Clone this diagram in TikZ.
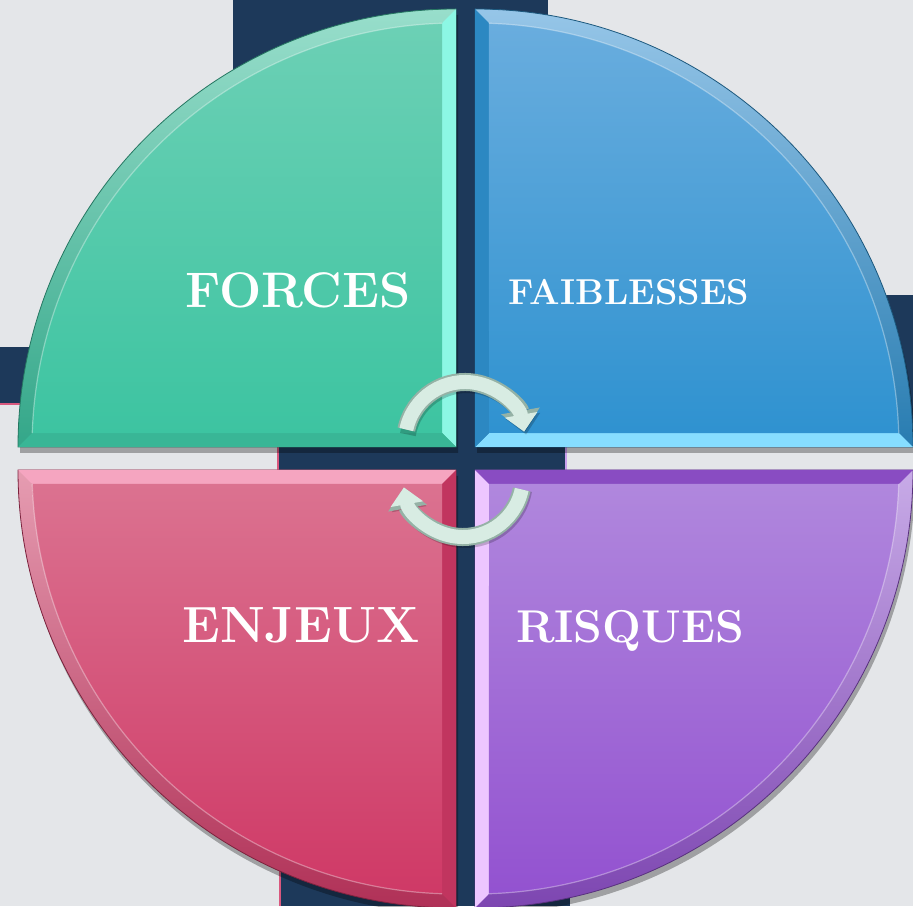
\documentclass[tikz,border=0pt]{standalone}
\usepackage{fontspec}
\usetikzlibrary{arrows.meta,shadows}

\definecolor{slide}{HTML}{E4E6E9}
\definecolor{navy}{HTML}{1D395A}
\definecolor{rim}{HTML}{D9587E}
\definecolor{lilac}{HTML}{C9A0EE}
\definecolor{mint}{HTML}{D8ECE3}
\definecolor{mintedge}{HTML}{95B2A6}
% quarter colours: face top, face bottom, glow strip
\definecolor{greentop}{HTML}{6CD0B5}
\definecolor{greenbot}{HTML}{3DC4A1}
\definecolor{greenglow}{HTML}{8CF7E4}
\definecolor{bluetop}{HTML}{69ADDE}
\definecolor{bluebot}{HTML}{2F92D0}
\definecolor{blueglow}{HTML}{86DDFF}
\definecolor{pinktop}{HTML}{DB7290}
\definecolor{pinkbot}{HTML}{CF3966}
\definecolor{pinkglow}{HTML}{F5A5C0}
\definecolor{violettop}{HTML}{B087DD}
\definecolor{violetbot}{HTML}{9352D0}
\definecolor{violetglow}{HTML}{EDC6FF}

\tikzset{
  quad/.style={drop shadow={shadow xshift=2pt,shadow yshift=-6pt,opacity=.3,fill=black}},
  quadtext/.style={anchor=base, text=white, font=\bfseries\fontsize{#1}{#1}\selectfont},
  turnshadow/.style={line width=16pt, draw=black, opacity=.2, -{Triangle[width=34pt,length=19pt]}},
  turnedge/.style={line width=18pt, draw=mintedge, -{Triangle[width=38pt,length=21pt]}},
  turn/.style={line width=14pt, draw=mint, -{Triangle[width=32pt,length=17pt]}}
}

% #1 corner, #2 start angle, #3 colour name
\newcommand{\quadrant}[3]{%
  \begin{scope}[shift={#1}]
    \shade[quad, top color=#3top!70!white, bottom color=#3bot!85!black, draw=#3bot!60!black, line width=.8pt]
      (0,0) -- (#2:438) arc[start angle=#2, end angle=#2+90, radius=438] -- cycle;
    \fill[#3glow] (0,0) -- (#2:438) -- (#2+1.89:424) -- (#2+45:19.8) -- cycle;
    \fill[#3bot!93!black] (0,0) -- (#2+90:438) -- (#2+88.11:424) -- (#2+45:19.8) -- cycle;
    \shade[top color=#3top, bottom color=#3bot]
      (#2+45:19.8) -- (#2+1.89:424) arc[start angle=#2+1.89, end angle=#2+88.11, radius=424] -- cycle;
    \draw[white, opacity=.35, line width=1.2pt]
      (#2+1.89:424) arc[start angle=#2+1.89, end angle=#2+88.11, radius=424];
  \end{scope}}

\begin{document}
\begin{tikzpicture}[x=1pt, y=1pt]
  \useasboundingbox (0,0) rectangle (913,906);
  \fill[slide] (0,0) rectangle (913,906);
  % dark cross behind the circle
  \fill[navy] (233,459) rectangle (548,906);
  \fill[navy] (280,0) rectangle (570,436);
  \fill[navy] (277,426) rectangle (567,470);
  \fill[navy] (0,503) rectangle (60,559);
  \fill[navy] (880,459) rectangle (913,611);
  \draw[rim, line width=1.5pt] (0,502) -- (60,502);
  \draw[rim, line width=1.5pt] (278,436) -- (278,459);
  \draw[lilac, line width=1.5pt] (566,436) -- (566,459);
  \draw[rim, line width=1.2pt] (280,0) -- (280,60);

  % four quarters
  \quadrant{(456,459)}{90}{green}
  \quadrant{(475,459)}{0}{blue}
  \quadrant{(475,436)}{-90}{violet}
  \quadrant{(456,436)}{180}{pink}

  \node[quadtext=50] (forces) at (298,598) {FORCES};
  \node[quadtext=36] (faiblesses) at (629,601) {FAIBLESSES};
  \node[quadtext=51] (enjeux) at (301,264) {ENJEUX};
  \node[quadtext=46] (risques) at (630,264) {RISQUES};

  % turning arrows
  \coordinate (topturn) at (465,464);
  \coordinate (lowturn) at (463,429);
  \draw[turnshadow] ([shift={(170:60)}]topturn) ++(2,-3) arc[start angle=170, end angle=10, radius=60];
  \draw[turnedge] ([shift={(168:60)}]topturn) arc[start angle=168, end angle=10, radius=60];
  \draw[turn] ([shift={(168:60)}]topturn) arc[start angle=168, end angle=10, radius=60];
  \draw[turnshadow] ([shift={(-10:60)}]lowturn) ++(2,-3) arc[start angle=-10, end angle=-170, radius=60];
  \draw[turnedge] ([shift={(-12:60)}]lowturn) arc[start angle=-12, end angle=-170, radius=60];
  \draw[turn] ([shift={(-12:60)}]lowturn) arc[start angle=-12, end angle=-170, radius=60];
\end{tikzpicture}
\end{document}
